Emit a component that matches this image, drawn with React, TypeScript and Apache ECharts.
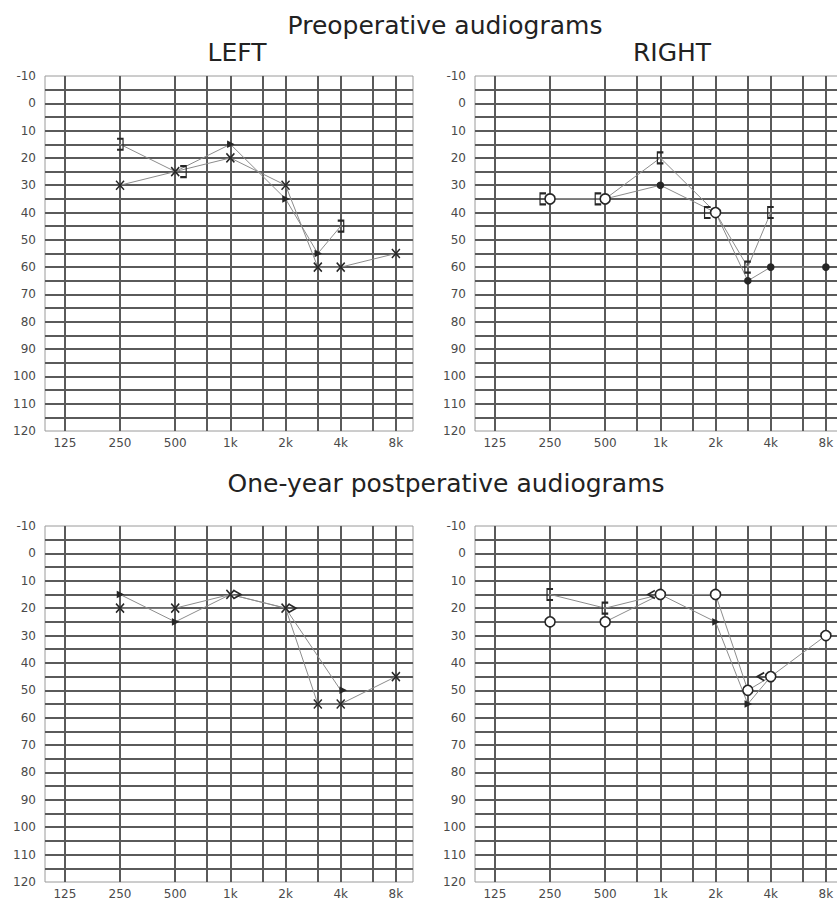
import React, { useEffect, useRef } from 'react';
import * as echarts from 'echarts';

// ---- axis definitions ----
const FREQ_TICKS = [125, 250, 500, 1000, 2000, 4000, 8000];
const FREQ_TICK_LABELS = ['125', '250', '500', '1k', '2k', '4k', '8k'];
const GRID_FREQS = [125, 250, 500, 750, 1000, 1500, 2000, 3000, 4000, 6000, 8000];
const DB_MIN = -10;
const DB_MAX = 120;
const DB_STEP = 5;

// ---- frequencies of measured points ----
const AC_FREQS = [250, 500, 1000, 2000, 3000, 4000, 8000];
const BC_FREQS = [250, 500, 1000, 2000, 3000, 4000];
const POST_LEFT_BC_FREQS = [250, 500, 1000, 2000, 4000];

// ---- thresholds (dB HL) ----
const PRE_LEFT_AC = [30, 25, 20, 30, 60, 60, 55];
const PRE_LEFT_BC = [15, 25, 15, 35, 55, 45];
const PRE_RIGHT_AC = [35, 35, 30, 40, 65, 60, 60];
const PRE_RIGHT_BC = [35, 35, 20, 40, 60, 40];
const POST_LEFT_AC = [20, 20, 15, 20, 55, 55, 45];
const POST_LEFT_BC = [15, 25, 15, 20, 50];
const POST_RIGHT_AC = [25, 25, 15, 15, 50, 45, 30];
const POST_RIGHT_BC = [15, 20, 15, 25, 55, 45];

// ---- marker styles (kept apart from data) ----
const SYMBOLS: Record<string, { path: string; size: number[]; filled?: boolean }> = {
  x: { path: 'path://M0,0L10,10M10,0L0,10', size: [8, 9] },
  bracketR: { path: 'path://M0,0L6,0L6,12L0,12', size: [6, 11] },
  bracketL: { path: 'path://M6,0L0,0L0,12L6,12', size: [6, 11] },
  arrowR: { path: 'path://M0,0L8,5L0,10', size: [7, 8] },
  arrowL: { path: 'path://M8,0L0,5L8,10', size: [7, 8] },
  tiny: { path: 'path://M0,0L8,5L0,10Z', size: [5, 5], filled: true },
  circle: { path: 'circle', size: [10, 10] },
  dot: { path: 'circle', size: [6, 6], filled: true },
};

const PRE_LEFT_AC_MARKS = ['x', 'x', 'x', 'x', 'x', 'x', 'x'];
const PRE_LEFT_BC_MARKS = ['bracketR', 'bracketR', 'tiny', 'tiny', 'tiny', 'bracketR'];
const PRE_LEFT_BC_SHIFT = [0, 8, 0, 0, 0, 0];
const PRE_RIGHT_AC_MARKS = ['circle', 'circle', 'dot', 'circle', 'dot', 'dot', 'dot'];
const PRE_RIGHT_BC_MARKS = ['bracketL', 'bracketL', 'bracketL', 'bracketL', 'bracketL', 'bracketL'];
const PRE_RIGHT_BC_SHIFT = [-7, -7, 0, -8, 0, 0];
const POST_LEFT_AC_MARKS = ['x', 'x', 'x', 'x', 'x', 'x', 'x'];
const POST_LEFT_BC_MARKS = ['tiny', 'tiny', 'arrowR', 'arrowR', 'tiny'];
const POST_LEFT_BC_SHIFT = [0, 0, 7, 7, 2];
const POST_RIGHT_AC_MARKS = ['circle', 'circle', 'circle', 'circle', 'circle', 'circle', 'circle'];
const POST_RIGHT_BC_MARKS = ['bracketL', 'bracketL', 'arrowL', 'tiny', 'tiny', 'arrowL'];
const POST_RIGHT_BC_SHIFT = [0, 0, -9, 0, 0, -10];

const oct = (f: number) => Math.log2(f / 125);
const X_MIN = -0.36;
const X_MAX = 6.31;

const GRID_LINE = '#5a5a5a';
const DATA_LINE = '#8c8c8c';
const MARK_COLOR = '#262626';
const FONT = 'DejaVu Sans';

const PANELS = [
  { left: 45, top: 76, height: 355, ac: [AC_FREQS, PRE_LEFT_AC, PRE_LEFT_AC_MARKS, null], bc: [BC_FREQS, PRE_LEFT_BC, PRE_LEFT_BC_MARKS, PRE_LEFT_BC_SHIFT] },
  { left: 475, top: 76, height: 355, ac: [AC_FREQS, PRE_RIGHT_AC, PRE_RIGHT_AC_MARKS, null], bc: [BC_FREQS, PRE_RIGHT_BC, PRE_RIGHT_BC_MARKS, PRE_RIGHT_BC_SHIFT] },
  { left: 45, top: 526, height: 356, ac: [AC_FREQS, POST_LEFT_AC, POST_LEFT_AC_MARKS, null], bc: [POST_LEFT_BC_FREQS, POST_LEFT_BC, POST_LEFT_BC_MARKS, POST_LEFT_BC_SHIFT] },
  { left: 475, top: 526, height: 356, ac: [AC_FREQS, POST_RIGHT_AC, POST_RIGHT_AC_MARKS, null], bc: [BC_FREQS, POST_RIGHT_BC, POST_RIGHT_BC_MARKS, POST_RIGHT_BC_SHIFT] },
];
const PANEL_WIDTH = 368;

function buildData(freqs: number[], vals: number[], marks: string[], shift: number[] | null) {
  return freqs.map((f, i) => {
    const s = SYMBOLS[marks[i]];
    return {
      value: [oct(f), vals[i]],
      symbol: s.path,
      symbolSize: s.size,
      symbolOffset: [shift ? shift[i] : 0, 0],
      itemStyle: {
        color: s.filled ? MARK_COLOR : s.path === 'circle' ? '#ffffff' : 'rgba(0,0,0,0)',
        borderColor: MARK_COLOR,
        borderWidth: 1.6,
      },
    };
  });
}

export default function App() {
  const ref = useRef<HTMLDivElement>(null);

  useEffect(() => {
    if (!ref.current) return;
    const chart = echarts.init(ref.current, null, { renderer: 'svg' });

    const grids = PANELS.map((p) => ({
      left: p.left,
      top: p.top,
      width: PANEL_WIDTH,
      height: p.height,
      show: true,
      borderColor: '#9a9a9a',
      borderWidth: 1,
      backgroundColor: '#ffffff',
    }));

    const xAxes = PANELS.map((_, i) => ({
      gridIndex: i,
      type: 'value',
      min: X_MIN,
      max: X_MAX,
      axisLine: { show: false },
      axisTick: { show: false },
      splitLine: { show: false },
      axisLabel: {
        customValues: FREQ_TICKS.map(oct),
        formatter: (v: number) => {
          const idx = FREQ_TICKS.findIndex((f) => Math.abs(oct(f) - v) < 1e-6);
          return idx >= 0 ? FREQ_TICK_LABELS[idx] : '';
        },
        color: '#4a4a4a',
        fontSize: 12,
        fontFamily: FONT,
        margin: 6,
      },
    }));

    const yAxes = PANELS.map((_, i) => ({
      gridIndex: i,
      type: 'value',
      inverse: true,
      min: DB_MIN,
      max: DB_MAX,
      interval: DB_STEP,
      axisLine: { show: false },
      axisTick: { show: false },
      splitLine: {
        show: true,
        showMinLine: false,
        showMaxLine: false,
        lineStyle: { color: GRID_LINE, width: 2 },
      },
      axisLabel: {
        formatter: (v: number) => (v % 10 === 0 ? String(v) : ''),
        color: '#4a4a4a',
        fontSize: 12,
        fontFamily: FONT,
        margin: 9,
        showMinLabel: true,
        showMaxLabel: true,
      },
    }));

    const series: any[] = [];
    PANELS.forEach((p, i) => {
      const [af, av, am, as] = p.ac as any;
      const [bf, bv, bm, bs] = p.bc as any;
      series.push({
        type: 'line',
        xAxisIndex: i,
        yAxisIndex: i,
        data: buildData(af, av, am, as),
        lineStyle: { color: DATA_LINE, width: 1 },
        z: 3,
        markLine: {
          silent: true,
          z: 1,
          symbol: ['none', 'none'],
          label: { show: false },
          lineStyle: { color: GRID_LINE, width: 2, type: 'solid' },
          emphasis: { disabled: true },
          data: GRID_FREQS.map((f) => ({ xAxis: oct(f) })),
        },
      });
      series.push({
        type: 'line',
        xAxisIndex: i,
        yAxisIndex: i,
        data: buildData(bf, bv, bm, bs),
        lineStyle: { color: DATA_LINE, width: 1 },
        z: 3,
      });
    });

    const titleBase = { textStyle: { fontFamily: FONT, fontSize: 25, fontWeight: 'normal', color: '#222' }, textAlign: 'center', textVerticalAlign: 'middle' };
    const titles = [
      { ...titleBase, text: 'Preoperative audiograms', left: 440, top: 20 },
      { ...titleBase, text: 'LEFT', left: 232, top: 47 },
      { ...titleBase, text: 'RIGHT', left: 667, top: 47 },
      { ...titleBase, text: 'One-year postperative audiograms', left: 441, top: 478 },
    ];

    chart.setOption({
      animation: false,
      backgroundColor: '#ffffff',
      title: titles,
      grid: grids,
      xAxis: xAxes,
      yAxis: yAxes,
      series,
    });

    return () => chart.dispose();
  }, []);

  return (
    <div
      ref={ref}
      style={{ position: 'fixed', left: 0, top: 0, width: 846, height: 904, background: '#fff' }}
    />
  );
}
